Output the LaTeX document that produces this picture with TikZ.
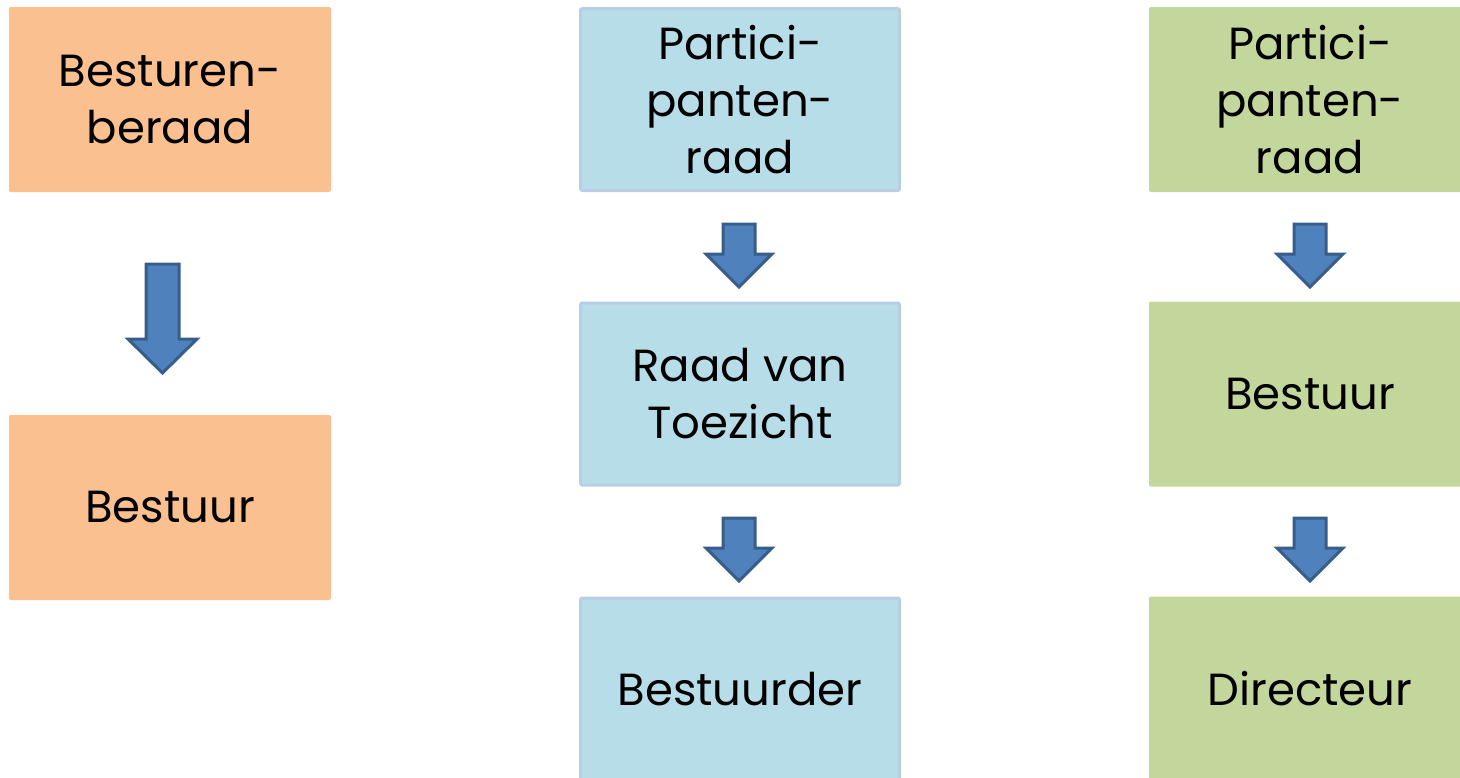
\documentclass[tikz,border=0pt]{standalone}
\usepackage{fontspec}
\setmainfont{Poppins}
\definecolor{orangebox}{HTML}{FAC090}
\definecolor{bluebox}{HTML}{B7DDE8}
\definecolor{blueedge}{HTML}{B9CDE5}
\definecolor{greenbox}{HTML}{C3D69B}
\definecolor{arrowfill}{HTML}{4F81BD}
\definecolor{arrowedge}{HTML}{385D8A}
\tikzset{
  box/.style={rectangle, rounded corners=2pt, inner sep=0pt, align=center,
    minimum width=322pt, minimum height=185pt,
    font=\fontsize{45}{57}\selectfont, text=black},
  obox/.style={box, fill=orangebox},
  bbox/.style={box, fill=bluebox, draw=blueedge, line width=3pt,
    minimum width=319pt, minimum height=182pt},
  gbox/.style={box, fill=greenbox},
  blockarrow/.style={fill=arrowfill, draw=arrowedge, line width=3pt, line join=miter}
}
\begin{document}
\begin{tikzpicture}[x=1pt,y=-1pt]
\useasboundingbox (0,0) rectangle (1460,777);
% orange column
\node[obox] (o1) at (170,99.5) {Besturen-\\beraad};
\node[obox] (o2) at (170,507.5) {Bestuur};
% blue column
\node[bbox] (b1) at (740,99.5) {Partici-\\panten-\\raad};
\node[bbox] (b2) at (740,394) {Raad van\\Toezicht};
\node[bbox] (b3) at (740,689) {Bestuurder};
% green column
\node[gbox] (g1) at (1310,99.5) {Partici-\\panten-\\raad};
\node[gbox] (g2) at (1310,394) {Bestuur};
\node[gbox] (g3) at (1310,689) {Directeur};
% block arrows
\draw[blockarrow] (146,264) -- (179,264) -- (179,339) -- (197,339) -- (162.5,373) -- (128,339) -- (146,339) -- cycle;
\draw[blockarrow] (723,224) -- (755,224) -- (755,254) -- (772,254) -- (739,287) -- (706,254) -- (723,254) -- cycle;
\draw[blockarrow] (723,518) -- (755,518) -- (755,548) -- (772,548) -- (739,581) -- (706,548) -- (723,548) -- cycle;
\draw[blockarrow] (1294,224) -- (1326,224) -- (1326,254) -- (1343,254) -- (1310,287) -- (1277,254) -- (1294,254) -- cycle;
\draw[blockarrow] (1294,518) -- (1326,518) -- (1326,548) -- (1343,548) -- (1310,581) -- (1277,548) -- (1294,548) -- cycle;
\end{tikzpicture}
\end{document}
